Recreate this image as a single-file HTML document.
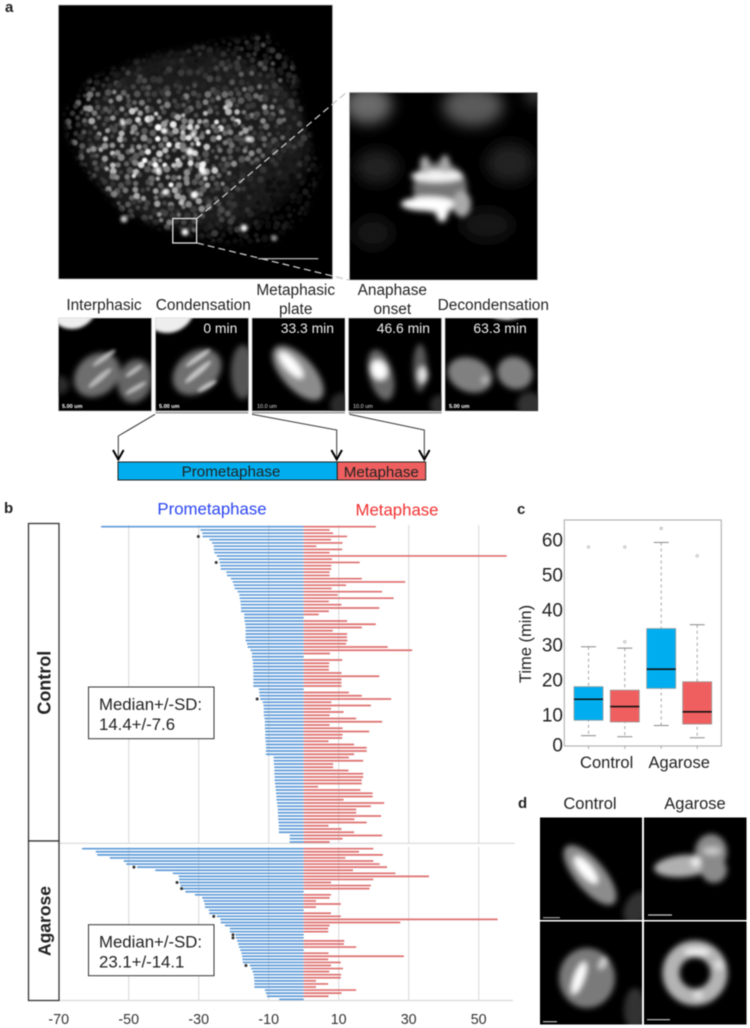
<!DOCTYPE html>
<html lang="en">
<head>
<meta charset="utf-8">
<title>Mitosis timing figure</title>
<style>
html,body{margin:0;padding:0;background:#fff;}
#figure{display:block;width:750px;height:1028px;font-family:"Liberation Sans",sans-serif;filter:blur(0.45px);}
text{font-family:"Liberation Sans",sans-serif;fill:#222;}
</style>
</head>
<body>
<svg id="figure" xmlns="http://www.w3.org/2000/svg" width="750" height="1028" viewBox="0 0 750 1028">
<defs>
<filter id="b05" x="-5%" y="-5%" width="110%" height="110%"><feGaussianBlur stdDeviation="0.7"/></filter>
<filter id="b1" x="-40%" y="-40%" width="180%" height="180%"><feGaussianBlur stdDeviation="1.5"/></filter>
<filter id="b3" x="-60%" y="-60%" width="220%" height="220%"><feGaussianBlur stdDeviation="3"/></filter>
<filter id="b6" x="-80%" y="-80%" width="260%" height="260%"><feGaussianBlur stdDeviation="7"/></filter>
<mask id="embryo-mask" maskUnits="userSpaceOnUse" x="58" y="5" width="275" height="275">
  <path d="M65 113 L90 80 L133 60 L173 50 L207 43 L267 35 L293 63 L303 113 L320 167 L307 213 L273 243 L223 243 L197 237 L167 230 L123 213 L83 167 L67 133Z" fill="#fff" filter="url(#b3)"/>
</mask>
<clipPath id="c-big"><rect x="58.5" y="5" width="274" height="274"/></clipPath>
<clipPath id="c-inset"><rect x="349.5" y="92.5" width="188" height="187.5"/></clipPath>
<clipPath id="c-s1"><rect x="58.5" y="318" width="93" height="93"/></clipPath>
<clipPath id="c-s2"><rect x="155.5" y="318" width="93" height="93"/></clipPath>
<clipPath id="c-s3"><rect x="252" y="318" width="93" height="93"/></clipPath>
<clipPath id="c-s4"><rect x="348.5" y="318" width="93" height="93"/></clipPath>
<clipPath id="c-s5"><rect x="445" y="318" width="93" height="93"/></clipPath>
<clipPath id="c-d1"><rect x="540" y="817.5" width="102" height="102.5"/></clipPath>
<clipPath id="c-d2"><rect x="644" y="817.5" width="102.5" height="102.5"/></clipPath>
<clipPath id="c-d3"><rect x="540" y="921.5" width="102" height="103"/></clipPath>
<clipPath id="c-d4"><rect x="644" y="921.5" width="102.5" height="103"/></clipPath>
</defs>

<!-- PANEL A -->
<text x="5" y="12" font-size="15" font-weight="bold">a</text>

<g>
  <rect x="58.5" y="5" width="274" height="274" fill="#000" stroke="#bbb" stroke-width="0.7"/>
  <g clip-path="url(#c-big)">
    <g mask="url(#embryo-mask)">
      <ellipse cx="195" cy="140" rx="115" ry="90" fill="#1c1c1c" filter="url(#b6)"/>
      <g id="embryo-nuclei" filter="url(#b05)"></g>
    </g>
    <g fill="#fff" filter="url(#b1)">
      <circle cx="194" cy="195" r="3.5"/><circle cx="244" cy="228" r="3.5"/><circle cx="185" cy="232" r="3.5"/>
      <circle cx="124" cy="219" r="3.5" fill="#ccc"/><circle cx="193" cy="135" r="3"/><circle cx="248" cy="139" r="3"/>
      <circle cx="190" cy="152" r="4"/><circle cx="158" cy="170" r="3.5"/><circle cx="165" cy="131" r="3"/>
      <circle cx="123" cy="123" r="3"/><circle cx="203" cy="172" r="3.5"/><circle cx="165" cy="192" r="3"/>
      <circle cx="274" cy="238" r="3" fill="#999"/>
    </g>
  </g>
  <rect x="172.8" y="218.5" width="23.8" height="24.5" fill="none" stroke="#e4e4e4" stroke-width="1.3"/>
  <line x1="258" y1="258.7" x2="318.3" y2="258.7" stroke="#ccc" stroke-width="1.2"/>
</g>

<g>
  <rect x="349.5" y="92.5" width="188" height="187.5" fill="#000" stroke="#bbb" stroke-width="0.7"/>
  <g clip-path="url(#c-inset)">
    <g filter="url(#b6)">
      <ellipse cx="368" cy="105" rx="24" ry="19" fill="#6a6a6a"/>
      <ellipse cx="473" cy="106" rx="30" ry="20" fill="#5a5a5a"/>
      <circle cx="535" cy="95" r="9" fill="#444"/>
      <ellipse cx="377" cy="167" rx="22" ry="17" fill="#202020"/>
      <ellipse cx="510" cy="163" rx="24" ry="20" fill="#202020"/>
      <ellipse cx="373" cy="233" rx="20" ry="16" fill="#161616"/>
      <ellipse cx="487" cy="225" rx="26" ry="16" fill="#161616"/>
    </g>
    <g filter="url(#b3)">
      <ellipse cx="440" cy="188" rx="27" ry="26" fill="#777"/>
      <ellipse cx="437" cy="176" rx="26" ry="6" fill="#f4f4f4"/>
      <ellipse cx="425" cy="165" rx="5" ry="9" fill="#aaa"/>
      <ellipse cx="445" cy="164" rx="5" ry="9" fill="#aaa"/>
      <ellipse cx="428" cy="204" rx="27" ry="7" fill="#fff"/>
      <ellipse cx="442" cy="211" rx="6" ry="11" fill="#fff"/>
      <ellipse cx="462" cy="204" rx="9" ry="13" fill="#aaa"/>
    </g>
  </g>
</g>

<g stroke="#c8c8c8" stroke-width="1.3" stroke-dasharray="7 4" fill="none">
  <path d="M197 218.5 L347 92"/>
  <path d="M197 243 L349 280"/>
</g>

<g font-size="15.4" text-anchor="middle">
  <text x="104" y="310">Interphasic</text>
  <text x="203.3" y="310">Condensation</text>
  <text x="295.7" y="295">Metaphasic</text>
  <text x="295.7" y="314">plate</text>
  <text x="392.3" y="295">Anaphase</text>
  <text x="392.3" y="314">onset</text>
  <text x="493.3" y="310">Decondensation</text>
</g>

<g>
  <rect x="58.5" y="318" width="93" height="93" fill="#000" stroke="#bbb" stroke-width="0.7"/>
  <g clip-path="url(#c-s1)">
    <circle cx="72" cy="304" r="25" fill="#eee" filter="url(#b1)"/>
    <g filter="url(#b3)">
      <ellipse cx="97" cy="375" rx="25" ry="20" transform="rotate(-40 97 375)" fill="#6e6e6e"/>
      <ellipse cx="135" cy="381" rx="17" ry="22" transform="rotate(15 135 381)" fill="#666"/>
      <circle cx="60" cy="385" r="9" fill="#2a2a2a"/>
    </g>
    <g filter="url(#b1)" fill="#b8b8b8">
      <ellipse cx="104" cy="358" rx="14" ry="2.5" transform="rotate(-35 104 358)"/>
      <ellipse cx="100" cy="378" rx="15" ry="3" transform="rotate(-40 100 378)"/>
      <ellipse cx="134" cy="371" rx="10" ry="2.5" transform="rotate(-35 134 371)"/>
      <ellipse cx="136" cy="388" rx="12" ry="2.5" transform="rotate(-30 136 388)"/>
    </g>
  </g>
  <text x="62" y="408" font-size="5.5" font-weight="bold" style="fill:#fff">5.00 um</text>
</g>

<g>
  <rect x="155.5" y="318" width="93" height="93" fill="#000" stroke="#bbb" stroke-width="0.7"/>
  <g clip-path="url(#c-s2)">
    <circle cx="167" cy="305" r="28" fill="#eee" filter="url(#b1)"/>
    <g filter="url(#b3)">
      <ellipse cx="197" cy="372" rx="27" ry="20" transform="rotate(-40 197 372)" fill="#707070"/>
      <ellipse cx="243" cy="372" rx="12" ry="27" fill="#555"/>
    </g>
    <g filter="url(#b1)" fill="#c4c4c4">
      <ellipse cx="198" cy="358" rx="15" ry="2.5" transform="rotate(-35 198 358)"/>
      <ellipse cx="198" cy="372" rx="17" ry="3" transform="rotate(-40 198 372)"/>
      <ellipse cx="207" cy="386" rx="11" ry="2.5" transform="rotate(-30 207 386)"/>
    </g>
  </g>
  <text x="159" y="408" font-size="5.5" font-weight="bold" style="fill:#fff">5.00 um</text>
  <text x="237.3" y="333" font-size="13.9" text-anchor="end" style="fill:#eee">0 min</text>
</g>

<g>
  <rect x="252" y="318" width="93" height="93" fill="#000" stroke="#bbb" stroke-width="0.7"/>
  <g clip-path="url(#c-s3)">
    <g filter="url(#b3)">
      <ellipse cx="298" cy="373" rx="34" ry="16" transform="rotate(48 298 373)" fill="#8c8c8c"/>
      <ellipse cx="291" cy="365" rx="17" ry="6" transform="rotate(48 291 365)" fill="#fff"/>
      <circle cx="342" cy="405" r="12" fill="#2c2c2c"/>
    </g>
  </g>
  <text x="257" y="408" font-size="5.5" style="fill:#ddd">10.0 um</text>
  <text x="334" y="333" font-size="13.9" text-anchor="end" style="fill:#eee">33.3 min</text>
</g>

<g>
  <rect x="348.5" y="318" width="93" height="93" fill="#000" stroke="#bbb" stroke-width="0.7"/>
  <g clip-path="url(#c-s4)">
    <g filter="url(#b3)">
      <ellipse cx="381" cy="375" rx="12" ry="26" transform="rotate(-15 381 375)" fill="#6a6a6a"/>
      <ellipse cx="379" cy="370" rx="8" ry="10" transform="rotate(-25 379 370)" fill="#fff"/>
      <ellipse cx="420" cy="368" rx="7" ry="24" fill="#5a5a5a"/>
      <ellipse cx="423" cy="375" rx="5" ry="8" fill="#e8e8e8"/>
      <circle cx="440" cy="405" r="10" fill="#2c2c2c"/>
    </g>
  </g>
  <text x="353" y="408" font-size="5.5" style="fill:#ddd">10.0 um</text>
  <text x="430" y="333" font-size="13.9" text-anchor="end" style="fill:#eee">46.6 min</text>
</g>

<g>
  <rect x="445" y="318" width="93" height="93" fill="#000" stroke="#bbb" stroke-width="0.7"/>
  <g clip-path="url(#c-s5)">
    <ellipse cx="507" cy="300" rx="27" ry="20" fill="#ddd" filter="url(#b1)"/>
    <g filter="url(#b3)">
      <ellipse cx="470" cy="375" rx="23" ry="17" transform="rotate(20 470 375)" fill="#808080"/>
      <ellipse cx="515" cy="373" rx="18" ry="16" transform="rotate(25 515 373)" fill="#808080"/>
      <circle cx="485" cy="380" r="3" fill="#ccc"/>
      <circle cx="530" cy="405" r="13" fill="#333"/>
    </g>
  </g>
  <text x="449" y="408" font-size="5.5" font-weight="bold" style="fill:#fff">5.00 um</text>
  <text x="526.7" y="333" font-size="13.9" text-anchor="end" style="fill:#eee">63.3 min</text>
</g>

<g stroke="#999" stroke-width="1.5">
  <line x1="155.5" y1="412.8" x2="248.3" y2="412.8"/>
  <line x1="252" y1="412.8" x2="345" y2="412.8"/>
  <line x1="348.5" y1="412.8" x2="441.7" y2="412.8"/>
</g>

<g fill="none" stroke="#333" stroke-width="1">
  <path d="M155 414.3 L118.3 436 L118.3 459"/>
  <path d="M252 414.3 L336.7 430 L336.7 459"/>
  <path d="M349.3 414.3 L424.3 430 L424.3 459"/>
</g>
<g fill="none" stroke="#000" stroke-width="2">
  <path d="M113 450 L118.3 459.5 L123.6 450"/>
  <path d="M331.4 450 L336.7 459.5 L342 450"/>
  <path d="M419 450 L424.3 459.5 L429.6 450"/>
</g>

<g>
  <rect x="118" y="462" width="219.3" height="18" fill="#00aeef" stroke="#222" stroke-width="1"/>
  <rect x="337.3" y="462" width="88.4" height="18" fill="#f05f5f" stroke="#222" stroke-width="1"/>
  <text x="231" y="476.5" font-size="15.2" text-anchor="middle">Prometaphase</text>
  <text x="381.3" y="477" font-size="15.2" text-anchor="middle">Metaphase</text>
</g>

<!-- PANEL B -->
<text x="4" y="513" font-size="15" font-weight="bold">b</text>
<g id="panel-b"></g>

<rect x="28.5" y="523.5" width="30.5" height="317.5" fill="#fff" stroke="#333" stroke-width="1.3"/>
<rect x="28.5" y="841" width="30.5" height="159.5" fill="#fff" stroke="#333" stroke-width="1.3"/>
<text transform="translate(50.5 682.7) rotate(-90)" font-size="18" font-weight="bold" text-anchor="middle">Control</text>
<text transform="translate(50.5 921) rotate(-90)" font-size="17.5" font-weight="bold" text-anchor="middle">Agarose</text>

<text x="212" y="514.5" font-size="16.8" text-anchor="middle" style="fill:#2b45f0">Prometaphase</text>
<text x="397" y="515.5" font-size="16.8" text-anchor="middle" style="fill:#f03030">Metaphase</text>

<g>
  <rect x="88.5" y="687" width="125.5" height="51.7" fill="#fff" stroke="#333" stroke-width="1"/>
  <text x="99" y="710" font-size="16.8">Median+/-SD:</text>
  <text x="99" y="730" font-size="16.8">14.4+/-7.6</text>
</g>
<g>
  <rect x="88.5" y="924.7" width="125.5" height="51" fill="#fff" stroke="#333" stroke-width="1"/>
  <text x="99" y="947.7" font-size="16.8">Median+/-SD:</text>
  <text x="99" y="967.3" font-size="16.8">23.1+/-14.1</text>
</g>

<!-- PANEL C -->
<text x="517" y="514" font-size="15" font-weight="bold">c</text>
<g id="panel-c"></g>

<!-- PANEL D -->
<text x="518" y="808" font-size="15" font-weight="bold">d</text>
<text x="590" y="809" font-size="16.5" text-anchor="middle">Control</text>
<text x="695" y="809" font-size="16.5" text-anchor="middle">Agarose</text>

<g>
  <rect x="540" y="817.5" width="102" height="102.5" fill="#000"/>
  <g clip-path="url(#c-d1)">
    <g filter="url(#b3)">
      <ellipse cx="590" cy="875" rx="37" ry="15" transform="rotate(50 590 875)" fill="#8c8c8c"/>
      <ellipse cx="586" cy="870" rx="17" ry="6" transform="rotate(50 586 870)" fill="#fff"/>
      <ellipse cx="637" cy="908" rx="12" ry="18" transform="rotate(30 637 908)" fill="#333"/>
    </g>
  </g>
  <line x1="543" y1="917.7" x2="560" y2="917.7" stroke="#aaa" stroke-width="1.2"/>
</g>
<g>
  <rect x="644" y="817.5" width="102.5" height="102.5" fill="#000"/>
  <g clip-path="url(#c-d2)">
    <g filter="url(#b3)">
      <ellipse cx="684" cy="866" rx="30" ry="11" transform="rotate(-5 684 866)" fill="#b0b0b0"/>
      <ellipse cx="711" cy="852" rx="16" ry="18" fill="#8a8a8a"/>
      <ellipse cx="714" cy="870" rx="13" ry="13" fill="#8a8a8a"/>
      <circle cx="696" cy="862" r="5" fill="#eee"/>
      <ellipse cx="712" cy="851" rx="9" ry="4" fill="#c8c8c8"/>
    </g>
  </g>
  <line x1="648" y1="915" x2="672" y2="915" stroke="#ccc" stroke-width="1.2"/>
</g>
<g>
  <rect x="540" y="921.5" width="102" height="103" fill="#000"/>
  <g clip-path="url(#c-d3)">
    <g filter="url(#b3)">
      <ellipse cx="587" cy="978" rx="28" ry="30" fill="#7a7a7a"/>
      <ellipse cx="579" cy="978" rx="5" ry="17" transform="rotate(20 579 978)" fill="#fff"/>
      <ellipse cx="603" cy="963" rx="3" ry="7" transform="rotate(30 603 963)" fill="#ddd"/>
      <ellipse cx="635" cy="1010" rx="11" ry="22" fill="#333"/>
    </g>
  </g>
  <line x1="543" y1="1021.7" x2="557" y2="1021.7" stroke="#bbb" stroke-width="1.2"/>
</g>
<g>
  <rect x="644" y="921.5" width="102.5" height="103" fill="#000"/>
  <g clip-path="url(#c-d4)">
    <g filter="url(#b3)">
      <circle cx="695" cy="973" r="24" fill="none" stroke="#b4b4b4" stroke-width="17"/>
      <ellipse cx="697" cy="952" rx="13" ry="4" fill="#eee"/>
      <circle cx="719" cy="965" r="5" fill="#ddd"/>
      <circle cx="698" cy="995" r="5" fill="#ddd"/>
    </g>
  </g>
  <line x1="647" y1="1019.7" x2="670" y2="1019.7" stroke="#ccc" stroke-width="1.2"/>
</g>

<script>
// ---- Panel B data (minutes) ----
const controlPrometaphase = [
  57.9,29.5,29.0,28.9,26.9,26.2,25.7,25.7,25.5,24.8,
  24.2,24.0,23.8,23.7,22.1,21.9,20.8,20.3,20.0,19.7,
  18.9,18.4,18.3,18.1,18.0,17.9,17.9,17.0,17.0,16.9,
  16.7,16.6,16.6,16.6,16.6,16.6,16.2,16.0,15.2,14.8,
  14.8,14.6,14.5,14.5,14.4,14.4,14.4,14.4,14.4,14.4,
  12.8,12.7,12.6,12.4,11.7,11.5,11.4,11.4,11.4,11.2,
  11.1,11.1,11.1,11.0,11.0,11.0,10.9,10.8,10.8,10.8,
  10.8,8.6,8.6,8.5,
  8.4,8.4,8.4,8.3,8.3,8.2,8.1,8.0,7.9,7.8,
  7.8,7.6,7.5,7.4,7.4,7.3,7.3,7.2,7.1,7.1,
  7.1,4.0,4.0,4.0
];
const controlMetaphase = [
  20.6,7.4,8.4,12.4,7.8,11.1,3.6,11.0,7.4,58.0,
  8.1,16.0,7.9,7.9,7.4,7.4,16.6,29.0,12.1,8.0,
  22.4,9.7,25.7,7.2,10.8,21.6,7.2,4.3,0,12.4,
  20.6,16.6,8.3,12.4,12.4,12.5,12.1,24.0,31.0,7.5,
  0,11.0,7.3,7.2,7.2,10.8,21.6,10.8,10.8,10.8,
  0,12.9,16.6,25.0,7.9,19.2,7.8,11.4,7.4,15.0,
  22.4,7.4,11.1,18.7,11.1,11.0,7.1,14.4,18.0,18.0,
  14.4,12.9,17.0,8.4,
  8.4,12.8,17.0,17.0,16.6,16.6,4.1,16.2,19.7,19.7,
  11.4,23.0,19.2,15.0,15.0,22.1,14.5,18.0,7.1,10.8,
  14.4,22.4,11.1,7.4
];
const agarosePrometaphase = [
  63.3,59.4,59.0,55.4,51.4,50.7,47.6,42.4,37.4,35.7,
  35.6,35.5,35.2,34.5,33.8,31.1,29.0,28.6,28.3,28.2,
  27.1,27.0,24.8,23.8,23.7,22.5,21.1,21.1,19.5,19.4,
  19.0,18.7,18.5,18.1,17.8,17.6,17.5,17.4,15.4,15.0,
  14.6,14.3,14.2,14.1,14.1,14.1,11.1,10.8,10.5,7.0
];
const agaroseMetaphase = [
  19.9,15.8,22.6,11.9,19.9,21.7,23.8,14.1,26.2,35.8,
  19.9,7.8,19.2,18.8,0,7.8,7.4,3.5,10.6,3.5,
  0,7.8,10.6,55.4,27.6,7.4,7.0,7.0,0,0,
  11.6,11.5,15.0,0,7.1,28.6,7.0,10.6,7.8,11.2,
  7.3,10.7,10.6,3.5,7.0,3.5,15.0,10.8,7.1,0
];
const controlStarRows = [3,11,53];
const controlStarValues = [30.1,25.0,13.3];
const agaroseStarRows = [6,11,13,22,28,29,38];
const agaroseStarValues = [48.5,36.2,34.9,25.7,20.2,20.2,16.5];
const xTickLabels = [-70,-50,-30,-10,10,30,50];

// ---- Panel C data (minutes) ----
const boxCategories = ["Control","Agarose"];
const boxQ1 = [8.5,8.0,17.6,7.4];
const boxQ3 = [18.1,17.1,34.7,19.5];
const boxMedian = [14.5,12.4,23.1,10.9];
const boxWhiskerLow = [4.1,3.8,7.0,3.5];
const boxWhiskerHigh = [29.5,29.1,59.3,35.8];
const boxOutliers = [[58],[30.9,58],[63.3],[55.5]];
const yTickLabels = [0,10,20,30,40,50,60];

const SVGNS = "http://www.w3.org/2000/svg";
function mk(parent, tag, attrs, text){
  const el = document.createElementNS(SVGNS, tag);
  for (const k in attrs) el.setAttribute(k, attrs[k]);
  if (text !== undefined) el.textContent = text;
  parent.appendChild(el);
  return el;
}

// ---- Micrograph texture: nuclei on a jittered lattice (image content, not chart data) ----
(function(){
  const host = document.getElementById("embryo-nuclei");
  const fr = (a, b) => { const s = Math.sin(a * 12.9898 + b * 78.233) * 43758.5453; return s - Math.floor(s); };
  const gauss = (x, y, cx, cy, sx, sy) => Math.exp(-((x-cx)*(x-cx))/(2*sx*sx) - ((y-cy)*(y-cy))/(2*sy*sy));
  for (let j = 0; j < 40; j++){
    for (let i = 0; i < 36; i++){
      const x = 60 + i * 7.8 + (j % 2) * 3.9 + (fr(i, j) - 0.5) * 5;
      const y = 30 + j * 6.4 + (fr(j + 3, i + 7) - 0.5) * 5;
      let f = 0.2 + 0.62 * gauss(x, y, 172, 155, 46, 40) + 0.32 * gauss(x, y, 248, 122, 28, 28) + 0.18 * gauss(x, y, 110, 118, 28, 28);
      f *= 1 - 0.72 * gauss(x, y, 285, 205, 42, 48);
      f *= 1 - 0.45 * gauss(x, y, 170, 60, 50, 22);
      const h = fr(i + 11, j + 5);
      const level = Math.min(255, Math.round(255 * f * (0.45 + 1.1 * h * h)));
      mk(host, "circle", {cx:x, cy:y, r:2.1 + 1.5 * fr(i + 2, j + 9), fill:"rgb(" + level + "," + level + "," + level + ")"});
    }
  }
})();

// axis functions panel B
const xB = v => 303.7 + v * 3.5;
const controlTop = 526.7, controlBottom = 842;
const agaroseTop = 848.7, agaroseBottom = 999.3;
const rowY = (i, n, top, bottom) => top + i * (bottom - top) / (n - 1);

const panelB = document.getElementById("panel-b");

xTickLabels.forEach(function(t){
  const g1 = mk(panelB, "line", {x1:xB(t), x2:xB(t), y1:525, y2:843, stroke:"#d8d8d8", "stroke-width":1});
  
  
  const g2 = mk(panelB, "line", {x1:xB(t), x2:xB(t), y1:847, y2:1000, stroke:"#d8d8d8", "stroke-width":1});
  
  
  const lab = mk(panelB, "text", {x:xB(t), y:1024, "font-size":14.3, "text-anchor":"middle", style:"fill:#333"}, String(t));
  
  
});
const divider = mk(panelB, "line", {x1:59, x2:515, y1:843.3, y2:843.3, stroke:"#d8d8d8", "stroke-width":1.2});


const baseline = mk(panelB, "line", {x1:59, x2:513, y1:1000.5, y2:1000.5, stroke:"#d8d8d8", "stroke-width":1.2});



function drawGroup(pro, meta, top, bottom, starRows, starValues){
  const n = pro.length;
  pro.forEach(function(v, i){
    const y = rowY(i, n, top, bottom);
    const b = mk(panelB, "line", {x1:xB(-v), x2:xB(0), y1:y, y2:y, stroke:"#5f9bd8", "stroke-width":1.7});
    
    
  });
  meta.forEach(function(v, i){
    if (v <= 0) return;
    const y = rowY(i, n, top, bottom);
    const b = mk(panelB, "line", {x1:xB(0), x2:xB(v), y1:y, y2:y, stroke:"#de6f6f", "stroke-width":1.7});
    
    
  });
  starRows.forEach(function(r, i){
    const s = mk(panelB, "circle", {cx:xB(-starValues[i]), cy:rowY(r, n, top, bottom), r:1.5, fill:"#333"});
    
    
  });
}
drawGroup(controlPrometaphase, controlMetaphase, controlTop, controlBottom, controlStarRows, controlStarValues);
drawGroup(agarosePrometaphase, agaroseMetaphase, agaroseTop, agaroseBottom, agaroseStarRows, agaroseStarValues);

// axis functions panel C
const yC = v => 750 - v * 3.5;
const boxLeft = [574,610.3,646.7,682.7];
const boxWidth = 29;
const boxFill = ["#00aeef","#f05f5f","#00aeef","#f05f5f"];
const panelC = document.getElementById("panel-c");

const frame = mk(panelC, "rect", {x:564.3, y:520, width:157, height:226, fill:"#fff", stroke:"#b5b5b5", "stroke-width":1.2});



yTickLabels.forEach(function(t){
  const y = Math.min(yC(t), 745);
  const lab = mk(panelC, "text", {x:563, y:y + 6.7, "font-size":19, "text-anchor":"end"}, String(t));
  
  
});
const yTitle = mk(panelC, "text", {transform:"translate(531 644) rotate(-90)", "font-size":16.5, "text-anchor":"middle"}, "Time (min)");



boxQ1.forEach(function(q1, i){
  const cx = boxLeft[i] + boxWidth / 2;
  const w1 = mk(panelC, "line", {x1:cx, x2:cx, y1:yC(boxWhiskerHigh[i]), y2:yC(boxWhiskerLow[i]), stroke:"#999", "stroke-width":0.9, "stroke-dasharray":"3 3"});
  
  
  [boxWhiskerHigh[i], boxWhiskerLow[i]].forEach(function(v){
    const c = mk(panelC, "line", {x1:cx - 7.5, x2:cx + 7.5, y1:yC(v), y2:yC(v), stroke:"#888", "stroke-width":1});
    
    
  });
  const b = mk(panelC, "rect", {x:boxLeft[i], y:yC(boxQ3[i]), width:boxWidth, height:yC(q1) - yC(boxQ3[i]), fill:boxFill[i], stroke:"#999", "stroke-width":0.8});
  
  
  const m = mk(panelC, "line", {x1:boxLeft[i], x2:boxLeft[i] + boxWidth, y1:yC(boxMedian[i]), y2:yC(boxMedian[i]), stroke:"#111", "stroke-width":1.6});
  
  
  boxOutliers[i].forEach(function(v){
    const o = mk(panelC, "circle", {cx:cx, cy:yC(v), r:1.2, fill:"none", stroke:"#aaa", "stroke-width":0.7});
    
    
  });
  const t = mk(panelC, "line", {x1:cx, x2:cx, y1:746, y2:749, stroke:"#999", "stroke-width":0.8});
  
  
});
boxCategories.forEach(function(c, i){
  const cx = (boxLeft[i * 2] + boxLeft[i * 2 + 1] + boxWidth) / 2;
  const lab = mk(panelC, "text", {x:cx, y:768, "font-size":16.5, "text-anchor":"middle"}, c);
  
  
});
</script>
</svg>
</body>
</html>
